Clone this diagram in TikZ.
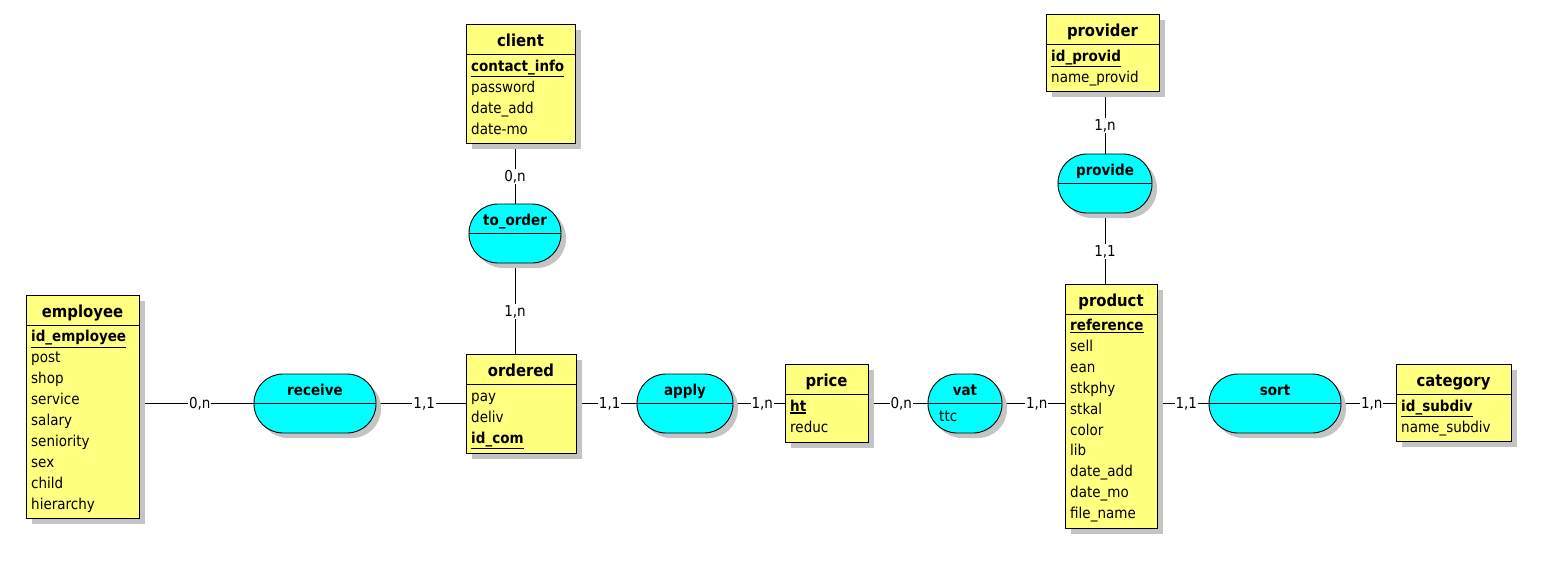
\documentclass[tikz,border=0pt]{standalone}
\usepackage{fontspec}
\setmainfont{DejaVu Sans}[FakeStretch=0.9]
\usetikzlibrary{shadows,backgrounds}

\definecolor{entyellow}{RGB}{255,255,128}
\definecolor{assoccyan}{RGB}{0,255,255}
\definecolor{shadowgray}{RGB}{196,196,196}

% bold + underlined identifier
\newcommand{\pkey}[1]{\setbox0\hbox{\bfseries #1}\rlap{\rule[\dimexpr-\dp0-2.5pt\relax]{\wd0}{1.1pt}}\box0}

\begin{document}
\begin{tikzpicture}[x=1pt,y=-1pt,
    link/.style={line width=0.9pt},
    entity/.style={draw, line width=0.9pt, fill=entyellow, anchor=north west, inner sep=0pt,
        drop shadow={shadow xshift=6pt, shadow yshift=-6pt, fill=shadowgray, opacity=1}},
    assoc/.style={draw, line width=0.9pt, fill=assoccyan, rounded corners=29pt, inner sep=0pt,
        minimum height=59pt,
        drop shadow={shadow xshift=5pt, shadow yshift=-5pt, fill=shadowgray, opacity=1}},
    etitle/.style={anchor=base, inner sep=0pt, font=\fontsize{16.5}{19}\selectfont\bfseries},
    atitle/.style={anchor=base, inner sep=0pt, font=\fontsize{15}{17}\selectfont\bfseries},
    attr/.style={anchor=base west, inner sep=0pt, font=\fontsize{15}{17}\selectfont},
    card/.style={midway, fill=white, inner sep=1pt, font=\fontsize{15}{17}\selectfont}]

    \useasboundingbox (0,0) rectangle (1541,562);

    % entities
    \node[entity, minimum width=113pt, minimum height=223pt] (employee) at (26,295) {};
    \draw[link] ([yshift=-30pt]employee.north west) -- ([yshift=-30pt]employee.north east);
    \node[etitle] (employee-t) at (82.5,317) {employee};
    \node[attr] (emp1) at (31,341.8) {\pkey{id\_employee}};
    \node[attr] (emp2) at (31,362.7) {post};
    \node[attr] (emp3) at (31,383.6) {shop};
    \node[attr] (emp4) at (31,404.5) {service};
    \node[attr] (emp5) at (31,425.4) {salary};
    \node[attr] (emp6) at (31,446.3) {seniority};
    \node[attr] (emp7) at (31,467.2) {sex};
    \node[attr] (emp8) at (31,488.1) {child};
    \node[attr] (emp9) at (31,509) {hierarchy};

    \node[entity, minimum width=109pt, minimum height=119pt] (client) at (466,24) {};
    \draw[link] ([yshift=-30pt]client.north west) -- ([yshift=-30pt]client.north east);
    \node[etitle] (client-t) at (520.5,46) {client};
    \node[attr] (cli1) at (471,71) {\pkey{contact\_info}};
    \node[attr] (cli2) at (471,92) {password};
    \node[attr] (cli3) at (471,113) {date\_add};
    \node[attr] (cli4) at (471,134) {date-mo};

    \node[entity, minimum width=110pt, minimum height=99pt] (ordered) at (466,354) {};
    \draw[link] ([yshift=-30pt]ordered.north west) -- ([yshift=-30pt]ordered.north east);
    \node[etitle] (ordered-t) at (521,376) {ordered};
    \node[attr] (ord1) at (471,401) {pay};
    \node[attr] (ord2) at (471,422) {deliv};
    \node[attr] (ord3) at (471,443) {\pkey{id\_com}};

    \node[entity, minimum width=83pt, minimum height=78pt] (price) at (785,364) {};
    \draw[link] ([yshift=-30pt]price.north west) -- ([yshift=-30pt]price.north east);
    \node[etitle] (price-t) at (826.5,386) {price};
    \node[attr] (pri1) at (790,411) {\pkey{ht}};
    \node[attr] (pri2) at (790,432) {reduc};

    \node[entity, minimum width=92pt, minimum height=244pt] (product) at (1065,284) {};
    \draw[link] ([yshift=-30pt]product.north west) -- ([yshift=-30pt]product.north east);
    \node[etitle] (product-t) at (1111,306) {product};
    \node[attr] (pro1) at (1070,330.5) {\pkey{reference}};
    \node[attr] (pro2) at (1070,351.4) {sell};
    \node[attr] (pro3) at (1070,372.3) {ean};
    \node[attr] (pro4) at (1070,393.2) {stkphy};
    \node[attr] (pro5) at (1070,414.1) {stkal};
    \node[attr] (pro6) at (1070,435) {color};
    \node[attr] (pro7) at (1070,455.9) {lib};
    \node[attr] (pro8) at (1070,476.8) {date\_add};
    \node[attr] (pro9) at (1070,497.7) {date\_mo};
    \node[attr] (pro10) at (1070,518.6) {file\_name};

    \node[entity, minimum width=115pt, minimum height=77pt] (category) at (1396,364) {};
    \draw[link] ([yshift=-30pt]category.north west) -- ([yshift=-30pt]category.north east);
    \node[etitle] (category-t) at (1453.5,386) {category};
    \node[attr] (cat1) at (1401,411) {\pkey{id\_subdiv}};
    \node[attr] (cat2) at (1401,432) {name\_subdiv};

    \node[entity, minimum width=113pt, minimum height=77pt] (provider) at (1046,14) {};
    \draw[link] ([yshift=-30pt]provider.north west) -- ([yshift=-30pt]provider.north east);
    \node[etitle] (provider-t) at (1102.5,36) {provider};
    \node[attr] (prv1) at (1051,61) {\pkey{id\_provid}};
    \node[attr] (prv2) at (1051,82) {name\_provid};

    % associations
    \node[assoc, minimum width=122pt] (receive) at (315,403.5) {};
    \draw[link] (receive.west) -- (receive.east);
    \node[atitle] (receive-t) at (315,395) {receive};

    \node[assoc, minimum width=92pt] (to_order) at (515,233.5) {};
    \draw[link] (to_order.west) -- (to_order.east);
    \node[atitle] (to_order-t) at (515,225) {to\_order};

    \node[assoc, minimum width=96pt] (apply) at (685,403.5) {};
    \draw[link] (apply.west) -- (apply.east);
    \node[atitle] (apply-t) at (685,395) {apply};

    \node[assoc, minimum width=74pt] (vat) at (965,403.5) {};
    \draw[link] (vat.west) -- (vat.east);
    \node[atitle] (vat-t) at (965,395) {vat};
    \node[attr] (vat1) at (939,421) {ttc};

    \node[assoc, minimum width=132pt] (sort) at (1275,403.5) {};
    \draw[link] (sort.west) -- (sort.east);
    \node[atitle] (sort-t) at (1275,395) {sort};

    \node[assoc, minimum width=94pt] (provide) at (1105,183.5) {};
    \draw[link] (provide.west) -- (provide.east);
    \node[atitle] (provide-t) at (1105,175) {provide};

    % links with cardinalities
    \begin{pgfonlayer}{background}
    \fill[white] (0,0) rectangle (1541,562);
    \draw[link] (employee.east |- receive.west) -- node[card, xshift=3pt] (c-emp) {0,n} (receive.west);
    \draw[link] (receive.east) -- node[card, xshift=3pt] (c-rec) {1,1} (receive.east -| ordered.west);
    \draw[link] (to_order.north) -- node[card, yshift=-3pt] (c-cli) {0,n} (to_order.north |- client.south);
    \draw[link] (to_order.south) -- node[card, yshift=-3pt] (c-ord) {1,n} (to_order.south |- ordered.north);
    \draw[link] (apply.west -| ordered.east) -- node[card, xshift=3pt] (c-app) {1,1} (apply.west);
    \draw[link] (apply.east) -- node[card, xshift=3pt] (c-pri) {1,n} (apply.east -| price.west);
    \draw[link] (vat.west -| price.east) -- node[card, xshift=3pt] (c-vat) {0,n} (vat.west);
    \draw[link] (vat.east) -- node[card, xshift=3pt] (c-pro) {1,n} (vat.east -| product.west);
    \draw[link] (sort.west -| product.east) -- node[card, xshift=3pt] (c-sor) {1,1} (sort.west);
    \draw[link] (sort.east) -- node[card, xshift=3pt] (c-cat) {1,n} (sort.east -| category.west);
    \draw[link] (provide.north) -- node[card, yshift=-3pt] (c-prv) {1,n} (provide.north |- provider.south);
    \draw[link] (provide.south) -- node[card, yshift=-3pt] (c-prd) {1,1} (provide.south |- product.north);
    \end{pgfonlayer}

\end{tikzpicture}
\end{document}
